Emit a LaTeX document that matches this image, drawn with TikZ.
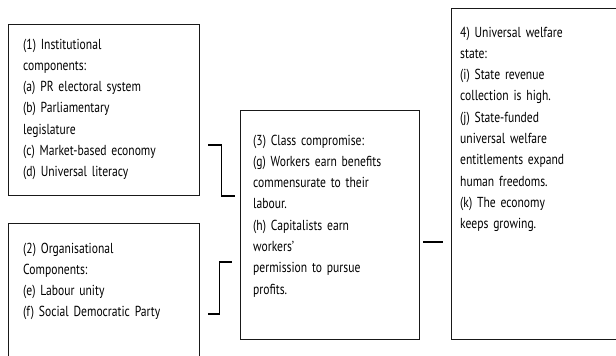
\documentclass[tikz,border=0pt]{standalone}
\usepackage{fontspec}
\setmainfont{PT Sans}[FakeStretch=0.8]
\protected\def\tightsp{\spaceskip=3pt plus 1pt minus 0.5pt\relax}
\begin{document}
\begin{tikzpicture}[x=1pt,y=-1pt,
  box/.style={draw=black!90, line width=0.95pt, inner sep=0pt},
  txt/.style={anchor=base west, inner sep=0pt, align=left, text width=#1,
    font=\fontsize{14.5}{21.3}\selectfont\tightsp},
  conn/.style={draw=black, line width=1.15pt}]
\useasboundingbox (0,0) rectangle (616,356);
\clip (0,0) rectangle (616,356);
% boxes
\node[box, minimum width=191pt, minimum height=171pt] (b1) at (103.5,109.5) {};
\node[box, minimum width=191pt, minimum height=147pt] (b2) at (103.5,296.5) {};
\node[box, minimum width=179pt, minimum height=229pt] (b3) at (329.5,224.5) {};
\node[box, minimum width=179pt, minimum height=331pt] (b4) at (540.5,173.5) {};
% texts
\node[txt=175pt] (t1) at (23,49) {(1) Institutional\\components:\\(a) PR electoral system\\(b) Parliamentary\\legislature\\(c) Market-based economy\\(d) Universal literacy};
\node[txt=175pt] (t2) at (23,253) {(2) Organisational\\Components:\\(e) Labour unity\\(f) Social Democratic Party};
\node[txt=165pt] (t3) at (253,145) {(3) Class compromise:\\(g) Workers earn benefits\\commensurate to their\\labour.\\(h) Capitalists earn\\workers'\\permission to pursue\\profits.};
\node[txt=150pt] (t4) at (460,37) {4) Universal welfare\\state:\\(i) State revenue\\collection is high.\\(j) State-funded\\universal welfare\\entitlements expand\\human freedoms.\\(k) The economy\\keeps growing.};
% connectors
\coordinate (k1a) at ([xshift=9pt]b1.east |- 0,145);
\coordinate (k1b) at ([xshift=-5pt]b3.west |- 0,196);
\draw[conn] (k1a) -| ([xshift=-18pt]b3.west |- k1b) -- (k1b);
\coordinate (k2a) at ([xshift=-8pt]b3.west |- 0,262);
\coordinate (k2b) at ([xshift=9pt]b2.east |- 0,314);
\draw[conn] (k2a) -| ([xshift=-20pt]b3.west |- k2b) -- (k2b);
\coordinate (k3a) at ([xshift=4pt]b3.east |- 0,242);
\coordinate (k3b) at ([xshift=-8pt]b4.west |- 0,242);
\draw[conn] (k3a) -- (k3b);
\end{tikzpicture}
\end{document}
